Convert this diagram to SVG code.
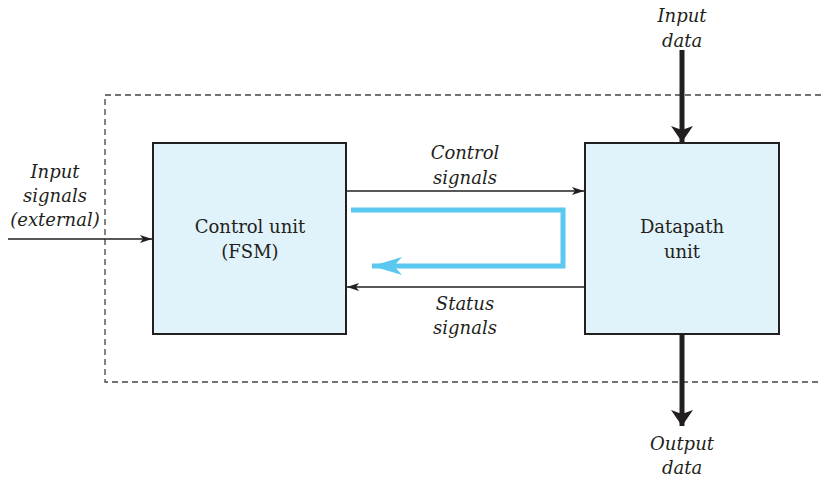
<svg xmlns="http://www.w3.org/2000/svg" width="821" height="477" viewBox="0 0 821 477">
<style>
.box{fill:#e0f2fa;stroke:#231f20;stroke-width:2}
.lbl{font-family:'DejaVu Serif',serif;font-size:18px;fill:#231f20;text-anchor:middle}
.it{font-style:italic}
.thin{stroke:#231f20;stroke-width:1.3;fill:none}
.thick{stroke:#231f20;stroke-width:5;fill:none}
.dash{stroke:#444;stroke-width:1.3;fill:none;stroke-dasharray:6,4}
</style>
<defs>
<marker id="ah" markerWidth="12" markerHeight="8" refX="12" refY="4" orient="auto" markerUnits="userSpaceOnUse">
<path d="M0,0 L12,4 L0,8 L3,4 Z" fill="#231f20"/>
</marker>
<marker id="ahb" markerWidth="16" markerHeight="22" refX="16" refY="11" orient="auto" markerUnits="userSpaceOnUse">
<path d="M0,0 L16,11 L0,22 L4,11 Z" fill="#231f20"/>
</marker>
<marker id="ahc" markerWidth="30" markerHeight="18" refX="30" refY="9" orient="auto" markerUnits="userSpaceOnUse">
<path d="M0,0 L30,9 L0,18 L8,9 Z" fill="#5bc8f0"/>
</marker>
</defs>
<path class="dash" d="M821,95 H105 V382 H821"/>
<g id="control-unit">
<rect class="box" x="153" y="143" width="193" height="191"/>
<text class="lbl" x="250" y="233">Control unit</text>
<text class="lbl" x="250" y="258">(FSM)</text>
</g>
<g id="datapath-unit">
<rect class="box" x="585" y="143" width="194" height="191"/>
<text class="lbl" x="682" y="233">Datapath</text>
<text class="lbl" x="682" y="258">unit</text>
</g>
<g id="connectors">
<line class="thin" x1="8" y1="239" x2="152" y2="239" marker-end="url(#ah)"/>
<line class="thin" x1="346" y1="191" x2="584" y2="191" marker-end="url(#ah)"/>
<line class="thin" x1="585" y1="287" x2="347" y2="287" marker-end="url(#ah)"/>
<line class="thick" x1="682" y1="50" x2="682" y2="142" marker-end="url(#ahb)"/>
<line class="thick" x1="682" y1="334" x2="682" y2="426" marker-end="url(#ahb)"/>
<path d="M351,210 H563 V266 H372" stroke="#5bc8f0" stroke-width="5" fill="none" marker-end="url(#ahc)"/>
</g>
<g id="labels">
<text class="lbl it" x="682" y="22">Input</text>
<text class="lbl it" x="682" y="47">data</text>
<text class="lbl it" x="682" y="450">Output</text>
<text class="lbl it" x="682" y="474">data</text>
<text class="lbl it" x="55" y="178">Input</text>
<text class="lbl it" x="55" y="202">signals</text>
<text class="lbl it" x="55" y="226">(external)</text>
<text class="lbl it" x="465" y="159">Control</text>
<text class="lbl it" x="465" y="184">signals</text>
<text class="lbl it" x="465" y="310">Status</text>
<text class="lbl it" x="465" y="334">signals</text>
</g>
</svg>
